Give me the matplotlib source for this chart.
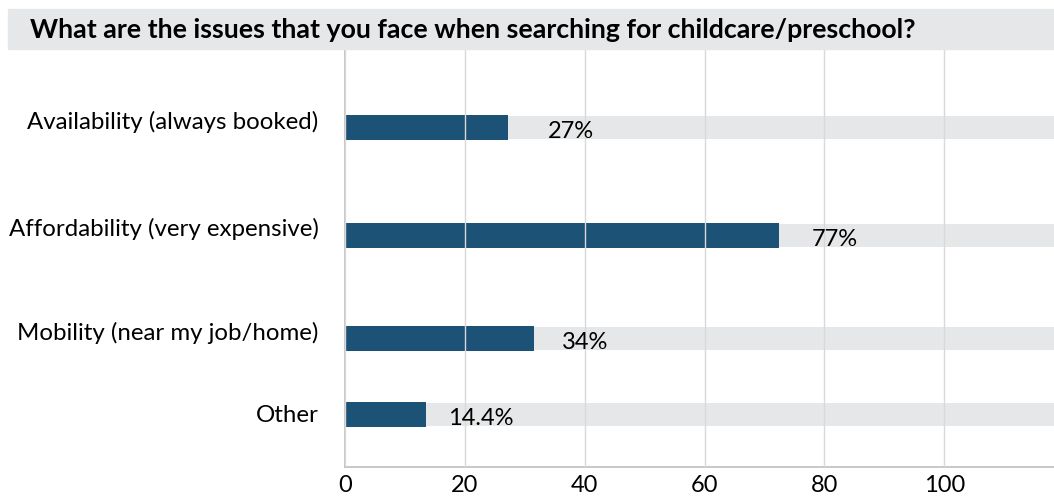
import matplotlib.pyplot as plt
import matplotlib.transforms as mtransforms
from matplotlib.patches import Rectangle

plt.rcParams['font.family'] = ['Lato', 'DejaVu Sans']

title = "What are the issues that you face when searching for childcare/preschool?"
categories = ["Availability (always booked)", "Affordability (very expensive)",
              "Mobility (near my job/home)", "Other"]
values = [27.2, 72.4, 31.5, 13.5]
labels = ["27%", "77%", "34%", "14.4%"]
ticks = [0, 20, 40, 60, 80, 100]

# layout (vertical centres in pixel-like units, top = 50, bottom = 467)
ypos = [127, 235, 338, 414]
label_off = [29, 24, 20, 16]
cat_shift = [7, 8, 7, 0]   # category labels sit a little above their bars
xmax = 118.3

fig = plt.figure(figsize=(10.54, 4.97), dpi=100)
ax = fig.add_axes([345 / 1054, 1 - 467 / 497, 1 - 345 / 1054, (467 - 50) / 497])

# title band
fig.patches.append(Rectangle((8 / 1054, 1 - 49 / 497), 1 - 8 / 1054, 40 / 497,
                             transform=fig.transFigure, color='#e6e7e9', zorder=0))
fig.text(30 / 1054, 1 - 30 / 497, title, fontsize=19.3, fontweight='bold',
         va='center', ha='left')

ax.barh(ypos, [xmax + 5] * len(ypos), height=23, color='#e6e7e9', zorder=1)
ax.barh(ypos, values, height=25, color='#1c5276', zorder=2)

for y, v, lab, off in zip(ypos, values, labels, label_off):
    ax.annotate(lab, (v, y), xytext=(off, -3), textcoords='offset points',
                fontsize=17, va='center', ha='left', zorder=4)

ax.set_xlim(0, xmax)
ax.set_ylim(467, 50)
ax.set_xticks(ticks)
ax.set_yticks(ypos)
ax.set_yticklabels(categories)
ax.tick_params(axis='both', length=0, labelsize=17.3)
ax.tick_params(axis='y', pad=19)
ax.tick_params(axis='x', pad=6)
for t in ax.get_xticklabels():
    t.set_fontsize(17)
for t, dy in zip(ax.get_yticklabels(), cat_shift):
    t.set_transform(t.get_transform() +
                    mtransforms.ScaledTranslation(0, dy / 100, fig.dpi_scale_trans))

ax.grid(axis='x', color='#d9d9d9', linewidth=1, zorder=3)
ax.set_axisbelow(False)
for s in ['top', 'right']:
    ax.spines[s].set_visible(False)
for s in ['left', 'bottom']:
    ax.spines[s].set_color('#bfbfbf')
    ax.spines[s].set_linewidth(1.2)

fig.savefig('out.png', dpi=100)
